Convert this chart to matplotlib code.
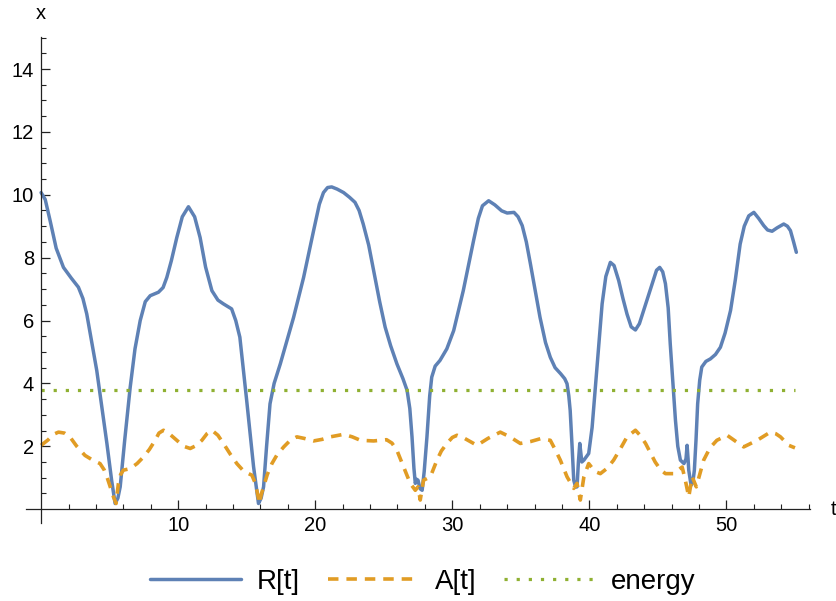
import numpy as np
import matplotlib
matplotlib.use("Agg")
import matplotlib.pyplot as plt
from matplotlib.ticker import FixedLocator

# R[t] sampled along the trajectory
t_r = [0, 0.3, 0.66, 1.1, 1.63, 2.2, 2.72, 3.05, 3.33, 3.7, 4.06, 4.8, 5.15, 5.4,
       5.6, 5.77, 6.1, 6.5, 6.85, 7.23, 7.6, 7.96, 8.56, 8.9, 9.17, 9.5, 9.9,
       10.3, 10.75, 11.2, 11.6, 12.0, 12.46, 12.9, 13.3, 13.9, 14.2, 14.5, 15.0,
       15.5, 15.86, 16.05, 16.23, 16.45, 16.7, 17.0, 17.45, 18.42, 19.15, 19.88,
       20.3, 20.6, 20.9, 21.2, 21.6, 22.07, 22.5, 22.9, 23.2, 23.5, 23.9, 24.26,
       24.7, 25.1, 25.5, 25.96, 26.4, 26.7, 26.9, 27.06, 27.2, 27.3, 27.4, 27.5,
       27.65, 27.8, 27.95, 28.15, 28.35, 28.5, 28.75, 29.1, 29.6, 30.1, 30.8,
       31.55, 31.9, 32.2, 32.65, 33.1, 33.6, 34.0, 34.5, 34.8, 35.1, 35.4, 35.7,
       36.4, 36.8, 37.15, 37.5, 37.9, 38.2, 38.37, 38.5, 38.6, 38.75, 38.86, 39.0,
       39.1, 39.2, 39.3, 39.45, 39.6, 39.95, 40.2, 40.44, 40.7, 40.93, 41.2,
       41.53, 41.8, 42.14, 42.45, 42.75, 43.05, 43.36, 43.65, 43.96, 44.58, 44.9,
       45.13, 45.35, 45.55, 45.75, 45.9, 46.1, 46.28, 46.45, 46.64, 46.9, 47.05,
       47.13, 47.2, 47.25, 47.42, 47.55, 47.66, 47.78, 47.9, 48.05, 48.2, 48.5,
       48.83, 49.2, 49.56, 49.9, 50.3, 50.65, 51.0, 51.3, 51.63, 52.0, 52.35,
       52.72, 53.0, 53.33, 53.7, 54.18, 54.45, 54.67, 54.9, 55.1]
r_vals = [10.07, 9.85, 9.17, 8.3, 7.69, 7.35, 7.06, 6.7, 6.21, 5.3, 4.41, 2.09,
          0.9, 0.18, 0.35, 0.71, 2.2, 3.88, 5.1, 6.0, 6.6, 6.79, 6.90, 7.05, 7.37,
          7.9, 8.64, 9.3, 9.62, 9.3, 8.64, 7.7, 6.95, 6.65, 6.53, 6.37, 6.0, 5.47,
          3.45, 1.35, 0.18, 0.35, 0.71, 2.0, 3.35, 4.0, 4.62, 6.1, 7.37, 8.86,
          9.7, 10.07, 10.23, 10.25, 10.18, 10.07, 9.92, 9.76, 9.5, 9.07, 8.4, 7.59,
          6.6, 5.79, 5.2, 4.62, 4.15, 3.78, 3.2, 2.30, 1.3, 0.82, 0.95, 0.92,
          0.65, 0.6, 1.2, 2.30, 3.6, 4.2, 4.55, 4.73, 5.1, 5.68, 6.95,
          8.54, 9.25, 9.65, 9.81, 9.68, 9.49, 9.42, 9.44, 9.3, 9.02, 8.5, 7.80,
          6.1, 5.3, 4.83, 4.5, 4.31, 4.15, 3.99, 3.6, 3.14, 1.9, 0.92, 0.7,
          0.71, 1.5, 2.09, 1.5, 1.56, 1.77, 2.6, 3.88, 5.3, 6.53, 7.4,
          7.85, 7.75, 7.27, 6.7, 6.2, 5.8, 5.70, 5.9, 6.32, 7.17, 7.6,
          7.69, 7.55, 7.17, 6.4, 5.26, 4.0, 2.83, 2.0, 1.56, 1.45, 1.6,
          2.03, 1.6, 1.24, 0.76, 0.85, 1.24, 2.2, 3.35, 4.1, 4.52, 4.7,
          4.78, 4.92, 5.15, 5.6, 6.32, 7.3, 8.43, 9.0, 9.33, 9.44, 9.25,
          9.02, 8.88, 8.84, 8.95, 9.07, 9.0, 8.86, 8.5, 8.17]

# A[t]
t_a = [0, 0.5, 0.9, 1.27, 1.7, 2.1, 2.6, 3.2, 3.8, 4.3, 4.6, 4.8, 5.05, 5.28, 5.47,
       5.55, 5.64, 5.8, 6.0, 6.5, 7.0, 7.47, 7.9, 8.32, 8.6, 8.93, 9.4, 9.9, 10.4,
       10.88, 11.3, 11.73, 12.1, 12.46, 12.9, 13.3, 13.8, 14.28, 14.8, 15.38, 15.6,
       15.74, 15.93, 16.05, 16.23, 16.5, 16.84, 17.2, 17.7, 18.2, 18.66, 19.2,
       19.88, 20.5, 21.1, 22.07, 22.7, 23.3, 24.26, 25.2, 25.6, 25.96, 26.45,
       26.93, 27.3, 27.5, 27.66, 27.9, 28.4, 28.88, 29.2, 29.6, 30.0, 30.34, 30.9,
       31.8, 32.6, 33.5, 34.2, 34.96, 35.7, 36.42, 37.15, 37.5, 37.88, 38.37,
       38.86, 39.1, 39.34, 39.6, 39.95, 40.4, 40.8, 41.3, 41.77, 42.3, 42.75,
       43.36, 43.7, 44.1, 44.8, 45.2, 45.55, 46.15, 46.77, 47.0, 47.25, 47.5,
       47.8, 48.34, 48.8, 49.3, 50.05, 50.7, 51.26, 52.24, 53.2, 53.6, 53.94,
       54.55, 55.0]
a_vals = [2.03, 2.2, 2.38, 2.45, 2.42, 2.30, 2.0, 1.71, 1.55, 1.45, 1.25, 1.03,
          0.7, 0.39, 0.18, 0.5, 0.82, 1.1, 1.24, 1.29, 1.45, 1.66, 1.9, 2.19,
          2.42, 2.51, 2.38, 2.19, 2.0, 1.93, 2.02, 2.19, 2.4, 2.51, 2.35, 2.09,
          1.75, 1.45, 1.2, 1.08, 0.85, 0.6, 0.18, 0.45, 0.71, 1.1, 1.45, 1.72,
          1.98, 2.2, 2.30, 2.25, 2.17, 2.22, 2.30, 2.38, 2.3, 2.19, 2.17, 2.21,
          2.1, 1.87, 1.34, 0.82, 0.6, 0.71, 0.29, 0.92, 1.03, 1.56, 1.85, 2.09,
          2.28, 2.35, 2.25, 2.03, 2.25, 2.45, 2.3, 2.09, 2.15, 2.24, 2.19, 1.9,
          1.56, 1.03, 0.66, 0.82, 0.29, 1.03, 1.45, 1.2, 1.13, 1.3, 1.56, 1.95,
          2.30, 2.51, 2.35, 2.09, 1.50, 1.25, 1.13, 1.13, 1.34, 0.92, 0.39, 1.03,
          0.71, 1.56, 1.95, 2.19, 2.35, 2.15, 1.98, 2.19, 2.45, 2.4, 2.30,
          2.03, 1.95]

# constant energy level
t_energy = [0, 55.0]
energy_vals = [3.8, 3.8]

x_major = [10, 20, 30, 40, 50]
x_minor = [v for v in range(2, 57, 2) if v % 10 != 0]
y_major = [2, 4, 6, 8, 10, 12, 14]
y_minor = [v / 2 for v in range(1, 31) if v % 4 != 0]

labels = ["R[t]", "A[t]", "energy"]
colors = ["#5E81B5", "#E19C24", "#8FB032"]

plt.rcParams["font.family"] = ["Liberation Sans", "DejaVu Sans"]

fig = plt.figure(figsize=(8.37, 6.01), dpi=100)
ax = fig.add_axes([0.0311, 0.1298, 0.9367, 0.8087])

ax.plot(t_r, r_vals, color=colors[0], lw=2.5, solid_joinstyle="round",
        solid_capstyle="round", label=labels[0])
ax.plot(t_a, a_vals, color=colors[1], lw=2.6, linestyle=(0, (2.9, 2.2)),
        dash_capstyle="butt", dash_joinstyle="round", label=labels[1])
ax.plot(t_energy, energy_vals, color=colors[2], lw=2.3, linestyle=(0, (1.0, 2.8)),
        dash_capstyle="butt", label=labels[2])

ax.set_xlim(-1.1, 56.1)
ax.set_ylim(-0.44, 15.02)

for side in ["top", "right"]:
    ax.spines[side].set_visible(False)
ax.spines["left"].set_position(("data", 0))
ax.spines["bottom"].set_position(("data", 0))
for side in ["left", "bottom"]:
    ax.spines[side].set_color("#222222")
    ax.spines[side].set_linewidth(0.9)

ax.xaxis.set_major_locator(FixedLocator(x_major))
ax.xaxis.set_minor_locator(FixedLocator(x_minor))
ax.yaxis.set_major_locator(FixedLocator(y_major))
ax.yaxis.set_minor_locator(FixedLocator(y_minor))
ax.tick_params(which="major", direction="in", length=6.5, width=0.9,
               color="#222222", labelsize=14.5, labelcolor="black")
ax.tick_params(which="minor", direction="in", length=3.3, width=0.8,
               color="#222222")
ax.tick_params(axis="x", which="major", pad=5)
ax.tick_params(axis="y", which="major", pad=5)

ax.annotate("x", xy=(0, 1), xycoords=("data", "axes fraction"),
            xytext=(0, 17), textcoords="offset points",
            ha="center", va="center", fontsize=14.5)
ax.annotate("t", xy=(1, 0), xycoords=("axes fraction", "data"),
            xytext=(17, 0), textcoords="offset points",
            ha="center", va="center", fontsize=14.5)

fig.legend(loc="center", bbox_to_anchor=(0.505, 0.032), ncol=3, frameon=False,
           fontsize=20, handlelength=3.3, handletextpad=0.55, columnspacing=1.0)

fig.savefig("out.png", dpi=100)
